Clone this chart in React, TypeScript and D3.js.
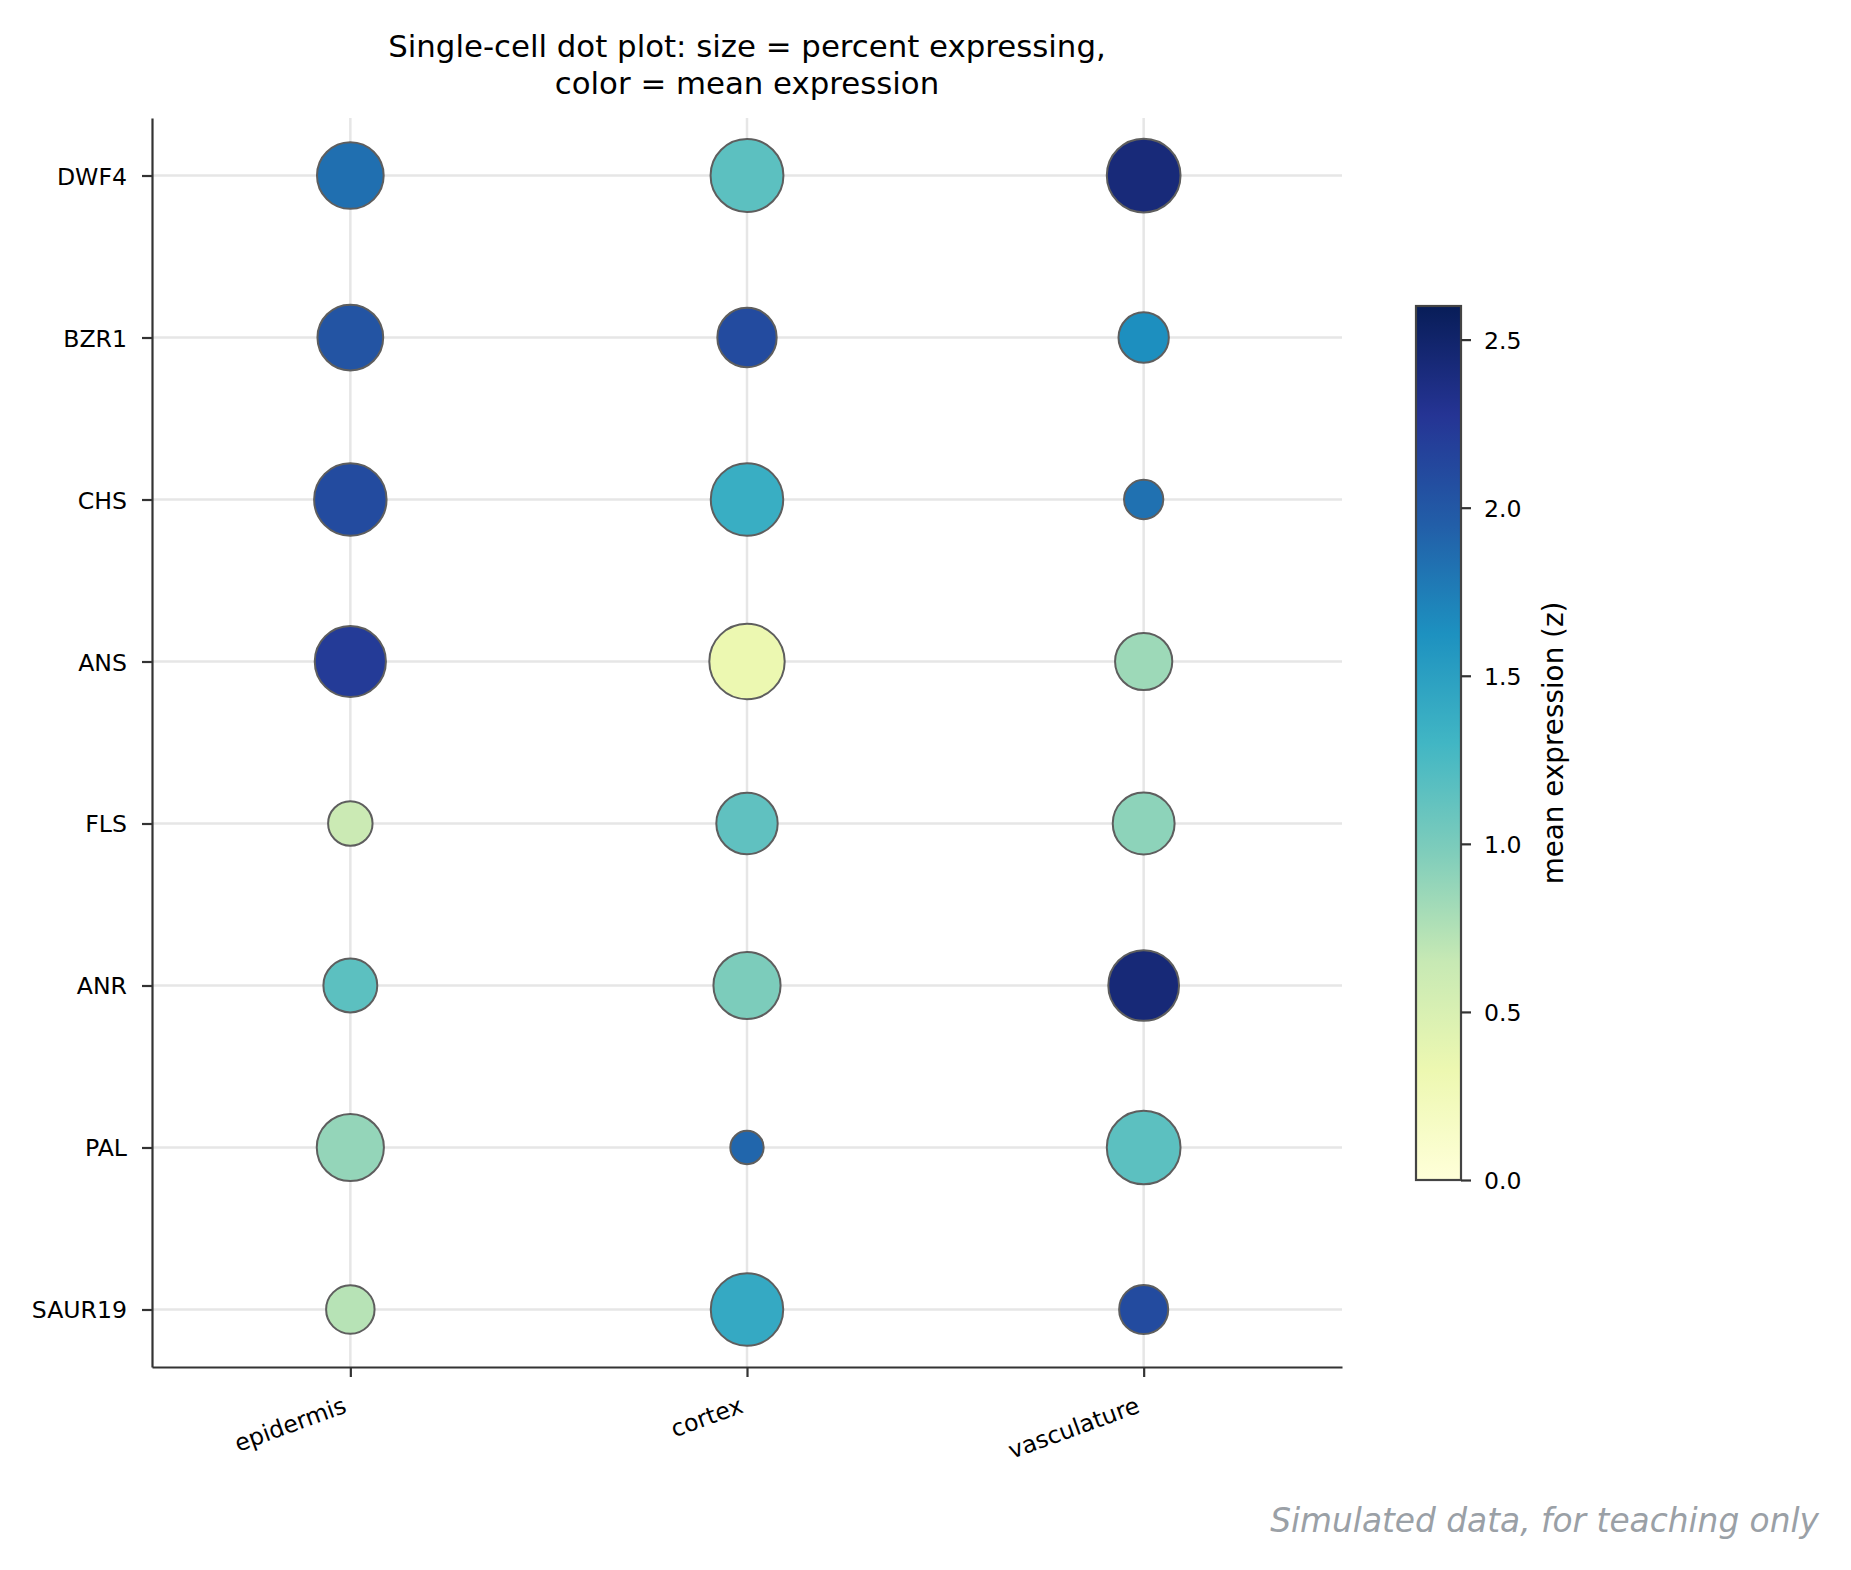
import React, { useEffect, useRef } from "react";
import * as d3 from "d3";

const width = 1851;
const height = 1570;

// genes top to bottom, cell types left to right
const genes = ["DWF4", "BZR1", "CHS", "ANS", "FLS", "ANR", "PAL", "SAUR19"];
const cellTypes = ["epidermis", "cortex", "vasculature"];

// percent of cells expressing (dot size)
const pctEpidermis = [72, 70, 85, 82, 32, 47, 73, 38];
const pctCortex = [86, 57, 85, 92, 61, 73, 18, 85];
const pctVasculature = [88, 41, 25, 53, 62, 81, 88, 39];

// mean expression, z-score (dot colour)
const exprEpidermis = [1.84, 2.03, 2.1, 2.22, 0.62, 1.16, 0.88, 0.72];
const exprCortex = [1.16, 2.1, 1.37, 0.33, 1.14, 0.99, 1.9, 1.41];
const exprVasculature = [2.42, 1.64, 1.83, 0.84, 0.91, 2.43, 1.16, 2.1];

const cbTicks = [0, 0.5, 1, 1.5, 2, 2.5];
const vmax = 2.6;

const title = ["Single-cell dot plot: size = percent expressing,", "color = mean expression"];
const cbLabel = "mean expression (z)";
const footnote = "Simulated data, for teaching only";

const font = "DejaVu Sans, sans-serif";

type Dot = { gene: string, cell: string, pct: number, expr: number };

const buildDots = (): Dot[] => {
    const pcts = [pctEpidermis, pctCortex, pctVasculature];
    const exprs = [exprEpidermis, exprCortex, exprVasculature];
    const out: Dot[] = [];
    cellTypes.forEach((cell, ci) => {
        genes.forEach((gene, gi) => {
            out.push({ gene, cell, pct: pcts[ci][gi], expr: exprs[ci][gi] });
        });
    });
    return out;
}

const App = () => {
    const ref = useRef<SVGSVGElement>(null);

    useEffect(() => {
        document.body.style.margin = "0";
        const svg = d3.select(ref.current);
        svg.selectAll("*").remove();

        const left = 152, right = 1342, top = 118, bottom = 1367;

        const x = d3.scalePoint<string>().domain(cellTypes).range([left, right]).padding(0.5);
        const y = d3.scalePoint<string>().domain(genes).range([top, bottom]).padding(0.355);
        const r = d3.scaleSqrt().domain([0, 100]).range([0, 39.3]);

        const stops = d3.schemeYlGnBu[9];
        const color = d3.scaleLinear<string>()
            .domain(stops.map((_, i) => i * vmax / (stops.length - 1)))
            .range(stops as string[])
            .interpolate(d3.interpolateRgb)
            .clamp(true);

        // grid
        const grid = svg.append("g")
            .attr("stroke", "#e6e6e6")
            .attr("stroke-width", 2.5);
        grid.selectAll("line.h")
            .data(genes)
            .join("line")
            .attr("class", "h")
            .attr("x1", left).attr("x2", right)
            .attr("y1", d => y(d)!).attr("y2", d => y(d)!);
        grid.selectAll("line.v")
            .data(cellTypes)
            .join("line")
            .attr("class", "v")
            .attr("x1", d => x(d)!).attr("x2", d => x(d)!)
            .attr("y1", top).attr("y2", bottom);

        // dots
        svg.append("g")
            .attr("stroke", "#5e5e5e")
            .attr("stroke-width", 2)
            .selectAll("circle")
            .data(buildDots())
            .join("circle")
            .attr("cx", d => x(d.cell)!)
            .attr("cy", d => y(d.gene)!)
            .attr("r", d => r(d.pct))
            .attr("fill", d => color(d.expr));

        // axes
        const yAxis = svg.append("g")
            .attr("transform", `translate(${left},0)`)
            .call(d3.axisLeft(y).tickSize(10).tickSizeOuter(0).tickPadding(15));
        const xAxis = svg.append("g")
            .attr("transform", `translate(0,${bottom})`)
            .call(d3.axisBottom(x).tickSize(10).tickSizeOuter(0));

        [yAxis, xAxis].forEach(a => {
            a.attr("font-family", font).attr("font-size", 23.6);
            a.selectAll("path, line").attr("stroke", "#333").attr("stroke-width", 2.2);
            a.selectAll("text").attr("fill", "#000");
        });
        yAxis.selectAll("text").attr("dy", "0.36em");
        xAxis.selectAll("text")
            .attr("x", 0).attr("y", 0).attr("dy", 0)
            .attr("text-anchor", "end")
            .attr("transform", "translate(-3,45) rotate(-20)");

        // colorbar
        const cbX = 1416, cbW = 45, cbTop = 306, cbBottom = 1180;
        const cy = d3.scaleLinear().domain([0, vmax]).range([cbBottom, cbTop]);

        const grad = svg.append("defs")
            .append("linearGradient")
            .attr("id", "cbGrad")
            .attr("x1", 0).attr("x2", 0).attr("y1", 1).attr("y2", 0);
        grad.selectAll("stop")
            .data(stops)
            .join("stop")
            .attr("offset", (_, i) => i / (stops.length - 1))
            .attr("stop-color", d => d);

        svg.append("rect")
            .attr("x", cbX).attr("y", cbTop)
            .attr("width", cbW).attr("height", cbBottom - cbTop)
            .attr("fill", "url(#cbGrad)")
            .attr("stroke", "#444")
            .attr("stroke-width", 2.2);

        const cbAxis = svg.append("g")
            .attr("transform", `translate(${cbX + cbW},0)`)
            .call(d3.axisRight(cy).tickValues(cbTicks).tickFormat(d3.format(".1f")).tickSize(10).tickPadding(13));
        cbAxis.attr("font-family", font).attr("font-size", 23.6);
        cbAxis.select(".domain").remove();
        cbAxis.selectAll("line").attr("stroke", "#333").attr("stroke-width", 2.2);
        cbAxis.selectAll("text").attr("fill", "#000").attr("dy", "0.36em");

        svg.append("text")
            .attr("transform", `translate(1563,${(cbTop + cbBottom) / 2}) rotate(-90)`)
            .attr("text-anchor", "middle")
            .attr("font-family", font)
            .attr("font-size", 27.8)
            .text(cbLabel);

        // title
        svg.append("g")
            .attr("font-family", font)
            .attr("font-size", 30.8)
            .attr("text-anchor", "middle")
            .selectAll("text")
            .data(title)
            .join("text")
            .attr("x", (left + right) / 2)
            .attr("y", (_, i) => 57 + i * 36.5)
            .text(d => d);

        // footnote
        svg.append("text")
            .attr("x", 1819).attr("y", 1532)
            .attr("text-anchor", "end")
            .attr("font-family", font)
            .attr("font-style", "italic")
            .attr("font-size", 32.8)
            .attr("fill", "#9aa0a6")
            .text(footnote);
    }, []);

    return (
        <svg ref={ref} width={width} height={height} style={{ display: "block", background: "#fff" }}>
        </svg>
    );
}

export default App;
